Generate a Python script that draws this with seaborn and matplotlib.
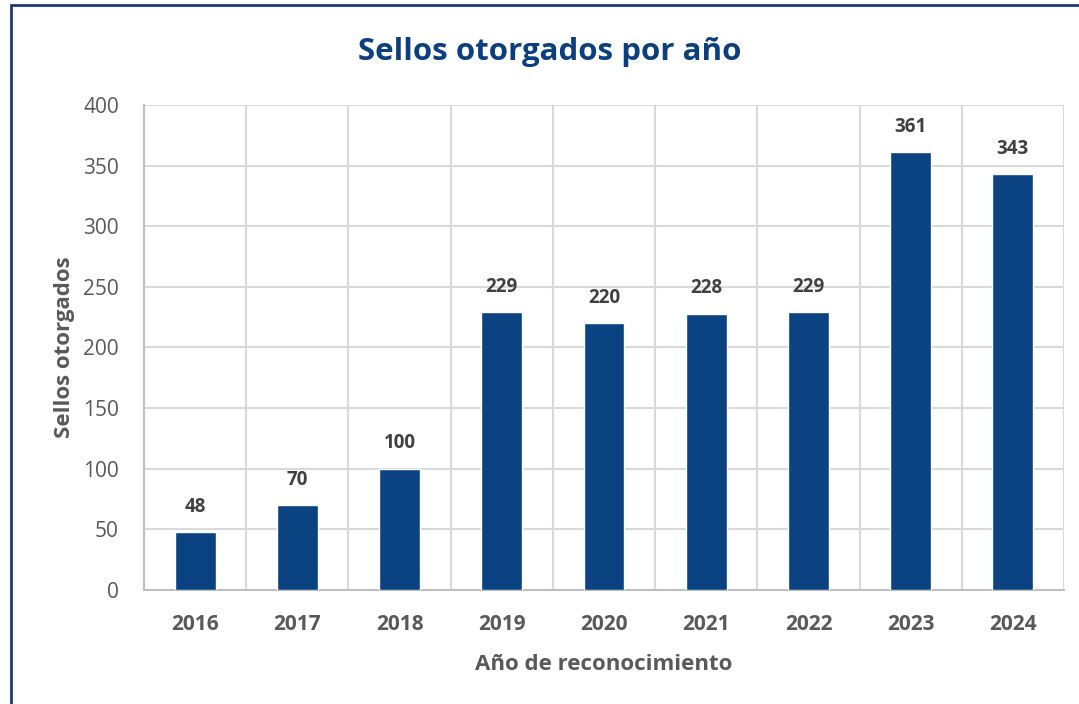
import matplotlib
matplotlib.use("Agg")
import matplotlib.pyplot as plt
import seaborn as sns
import pandas as pd
import numpy as np
from matplotlib.patches import Rectangle

years = ["2016", "2017", "2018", "2019", "2020", "2021", "2022", "2023", "2024"]
sellos = [48, 70, 100, 229, 220, 228, 229, 361, 343]
yticks = [0, 50, 100, 150, 200, 250, 300, 350, 400]

sns.set_theme(style="white")
plt.rcParams['font.family'] = ['Open Sans', 'DejaVu Sans']

df = pd.DataFrame({"year": years, "sellos": sellos})

fig = plt.figure(figsize=(10.79, 7.04), dpi=100)
ax = fig.add_axes([144/1079, 1-590/704, (1064-144)/1079, (590-105)/704])

bar_color = "#0B4382"
sns.barplot(data=df, x="year", y="sellos", color=bar_color, width=0.4, ax=ax,
            saturation=1, zorder=3)

ax.set_ylim(0, 400)
ax.set_xlim(-0.5, len(years) - 0.5)
ax.set_yticks(yticks)
ax.set_yticklabels([str(t) for t in yticks], fontsize=15, color="#595959")
ax.set_xticks(range(len(years)))
ax.set_xticklabels(years, fontsize=15, color="#595959", fontweight="bold")
ax.tick_params(axis="both", length=0)
ax.tick_params(axis="x", pad=17)
ax.tick_params(axis="y", pad=18)

ax.set_xticks(np.arange(-0.5, len(years)), minor=True)
ax.grid(axis="y", which="major", color="#D9D9D9", lw=1.5, zorder=0)
ax.grid(axis="x", which="minor", color="#D9D9D9", lw=1.5, zorder=0)
ax.grid(axis="x", which="major", visible=False)
ax.tick_params(which="minor", length=0)

for s in ["left", "bottom"]:
    ax.spines[s].set_color("#BFBFBF")
    ax.spines[s].set_linewidth(1.5)
for s in ["top", "right"]:
    ax.spines[s].set_visible(False)

for i, v in enumerate(sellos):
    ax.annotate(str(v), (i, v), xytext=(0, 11), textcoords="offset points",
                ha="center", va="bottom", fontsize=13.5, fontweight="bold", color="#404040")

ax.set_xlabel("Año de reconocimiento", fontsize=16, fontweight="bold", color="#595959", labelpad=14)
ax.set_ylabel("Sellos otorgados", fontsize=16, fontweight="bold", color="#595959", labelpad=6)

fig.text(550/1079, 1-52/704, "Sellos otorgados por año", ha="center", va="center",
         fontsize=22.5, fontweight="bold", color="#0B3F7F")

fig.patches.append(Rectangle((11/1079, -0.1), 1.2, 1-5/704+0.1, transform=fig.transFigure,
                             fill=False, edgecolor="#1F3A73", lw=2, zorder=10))

fig.savefig("out.png", dpi=100)
